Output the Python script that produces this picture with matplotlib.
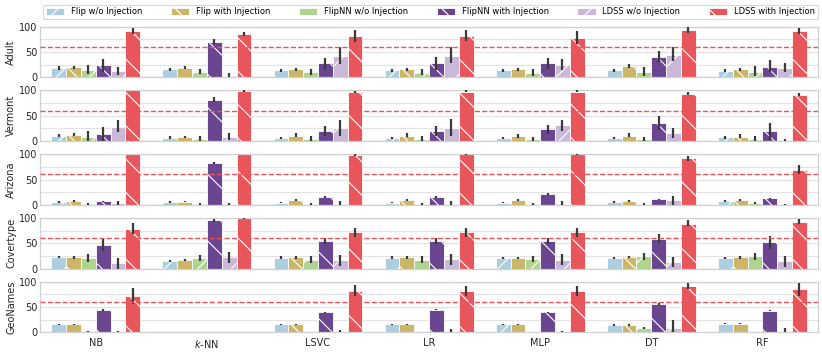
import matplotlib
matplotlib.use("Agg")
import matplotlib.pyplot as plt
import matplotlib.patches as mpatches
import numpy as np

plt.rcParams['font.family'] = ['DejaVu Sans']
plt.rcParams['hatch.color'] = 'white'
plt.rcParams['hatch.linewidth'] = 0.8

CLASSIFIERS = ['NB', '$k$-NN', 'LSVC', 'LR', 'MLP', 'DT', 'RF']
METHODS = ['Flip w/o Injection', 'Flip with Injection', 'FlipNN w/o Injection',
           'FlipNN with Injection', 'LDSS w/o Injection', 'LDSS with Injection']
DATASETS = ['Adult', 'Vermont', 'Arizona', 'Covertype', 'GeoNames']
THRESHOLD = 60

# rows = methods, columns = classifiers
ADULT_MEAN = [[18, 16, 14, 14, 14, 14, 13],
              [20, 19, 16, 16, 16, 22, 16],
              [15, 11, 10, 9, 8, 11, 11],
              [24, 70, 28, 28, 28, 40, 20],
              [12, 3, 42, 42, 24, 45, 18],
              [91, 85, 81, 81, 78, 93, 91]]
ADULT_LO = [[14, 13, 11, 11, 11, 11, 10],
            [17, 16, 13, 13, 13, 18, 13],
            [7, 6, 4, 4, 3, 3, 3],
            [10, 66, 15, 14, 16, 31, 10],
            [5, 0, 26, 28, 14, 33, 10],
            [85, 82, 70, 72, 65, 88, 85]]
ADULT_HI = [[22, 19, 17, 17, 17, 17, 16],
            [23, 22, 19, 19, 19, 27, 19],
            [25, 16, 16, 16, 16, 21, 23],
            [37, 76, 39, 40, 39, 53, 34],
            [20, 8, 60, 59, 36, 60, 28],
            [97, 89, 93, 93, 91, 99, 97]]

VERMONT_MEAN = [[10, 7, 6, 6, 6, 7, 8],
                [12, 9, 11, 11, 10, 11, 9],
                [9, 4, 5, 4, 4, 4, 5],
                [14, 81, 20, 20, 23, 35, 19],
                [28, 8, 26, 26, 31, 15, 0],
                [100, 99, 97, 98, 98, 94, 92]]
VERMONT_LO = [[8, 5, 4, 4, 4, 5, 5],
              [10, 7, 8, 8, 7, 8, 6],
              [0, 0, 0, 0, 0, 0, 0],
              [0, 77, 10, 10, 14, 22, 2],
              [17, 2, 10, 10, 20, 7, 0],
              [100, 98, 96, 97, 97, 92, 89]]
VERMONT_HI = [[13, 10, 8, 8, 8, 9, 11],
              [15, 11, 15, 15, 13, 15, 13],
              [20, 10, 10, 10, 9, 9, 10],
              [28, 87, 29, 29, 32, 50, 35],
              [42, 15, 42, 43, 42, 26, 5],
              [100, 100, 99, 100, 100, 97, 96]]

ARIZONA_MEAN = [[5, 5, 4, 4, 4, 5, 7],
                [7, 6, 9, 9, 9, 7, 9],
                [1, 1, 2, 1, 2, 1, 3],
                [7, 82, 15, 15, 22, 11, 13],
                [3, 0, 1, 1, 1, 9, 0],
                [100, 100, 98, 100, 100, 92, 69]]
ARIZONA_LO = [[4, 4, 3, 3, 3, 4, 5],
              [5, 5, 8, 8, 7, 5, 7],
              [0, 0, 0, 0, 0, 0, 1],
              [6, 80, 14, 13, 20, 10, 12],
              [0, 0, 0, 0, 0, 0, 0],
              [100, 100, 97, 99, 99, 87, 60]]
ARIZONA_HI = [[8, 7, 6, 6, 6, 7, 9],
              [10, 8, 12, 12, 11, 10, 12],
              [3, 3, 4, 3, 4, 3, 5],
              [8, 84, 17, 17, 24, 12, 14],
              [8, 3, 8, 8, 8, 18, 1],
              [100, 100, 100, 100, 100, 97, 79]]

COVERTYPE_MEAN = [[22, 14, 21, 21, 20, 21, 20],
                  [22, 16, 22, 22, 20, 22, 22],
                  [20, 21, 16, 17, 18, 24, 24],
                  [47, 95, 54, 54, 54, 59, 52],
                  [11, 22, 16, 18, 17, 12, 14],
                  [79, 99, 72, 72, 72, 89, 93]]
COVERTYPE_LO = [[20, 13, 19, 19, 19, 19, 19],
                [19, 15, 19, 19, 19, 20, 19],
                [13, 15, 10, 11, 12, 16, 16],
                [35, 93, 48, 48, 48, 51, 38],
                [0, 10, 6, 7, 7, 3, 3],
                [68, 98, 63, 63, 63, 85, 89]]
COVERTYPE_HI = [[25, 17, 24, 24, 23, 23, 23],
                [25, 19, 24, 24, 23, 24, 24],
                [28, 27, 24, 24, 25, 31, 31],
                [60, 98, 61, 60, 60, 69, 65],
                [21, 33, 27, 28, 28, 22, 25],
                [91, 100, 80, 81, 81, 95, 98]]

GEONAMES_MEAN = [[16, 0, 16, 16, 16, 14, 16],
                 [16, 0, 16, 16, 16, 14, 16],
                 [0, 0, 0, 0, 0, 8, 0],
                 [44, 0, 40, 45, 40, 55, 43],
                 [0, 0, 0, 3, 0, 8, 2],
                 [72, 0, 82, 82, 82, 91, 85]]
GEONAMES_LO = [[15, 0, 15, 15, 15, 13, 16],
               [15, 0, 15, 15, 15, 13, 16],
               [0, 0, 0, 0, 0, 7, 0],
               [43, 0, 38, 44, 39, 54, 42],
               [0, 0, 0, 0, 0, 0, 0],
               [55, 0, 72, 72, 72, 85, 72]]
GEONAMES_HI = [[17, 0, 17, 17, 17, 16, 18],
               [17, 0, 17, 17, 17, 16, 18],
               [2, 1, 1, 1, 1, 10, 1],
               [46, 0, 41, 46, 41, 57, 45],
               [2, 1, 5, 7, 3, 24, 8],
               [88, 0, 93, 92, 92, 98, 98]]

COLORS = ['#abcfe0', '#cbb566', '#afd490', '#6a4590', '#c9b8d8', '#e8555a']
HATCHES = ['/', '\\', '/', '\\', '/', '\\']

PANELS = [(ADULT_MEAN, ADULT_LO, ADULT_HI),
          (VERMONT_MEAN, VERMONT_LO, VERMONT_HI),
          (ARIZONA_MEAN, ARIZONA_LO, ARIZONA_HI),
          (COVERTYPE_MEAN, COVERTYPE_LO, COVERTYPE_HI),
          (GEONAMES_MEAN, GEONAMES_LO, GEONAMES_HI)]

fig, axes = plt.subplots(5, 1, figsize=(8.22, 3.52), dpi=100, sharex=True)
fig.subplots_adjust(left=0.049, right=0.995, top=0.924, bottom=0.056, hspace=0.26)

x = np.arange(len(CLASSIFIERS))
n = len(METHODS)
width = 0.8 / n

for ax, name, (mean, lo, hi) in zip(axes, DATASETS, PANELS):
    ax.set_facecolor('white')
    ax.set_axisbelow(True)
    ax.yaxis.grid(True, color='#e3e3e3', lw=0.9)
    for s in ax.spines.values():
        s.set_color('#d0d0d0')
        s.set_linewidth(0.9)
    for i in range(n):
        pos = x - 0.4 + width * (i + 0.5)
        ax.bar(pos, mean[i], width=width, color=COLORS[i], hatch=HATCHES[i],
               edgecolor='white', linewidth=0.6)
        ax.vlines(pos, lo[i], hi[i], color='#3a3a3a', lw=1.6, zorder=3)
    ax.axhline(THRESHOLD, color='#e8555a', ls='--', lw=1.0, zorder=4)
    ax.set_ylim(0, 100)
    ax.set_xlim(-0.5, len(CLASSIFIERS) - 0.5)
    ax.set_yticks([0, 25, 50, 75, 100])
    ax.set_yticklabels(['0', '', '50', '', '100'])
    ax.set_ylabel(name, fontsize=7, color='#262626', labelpad=2)
    ax.tick_params(axis='both', length=0, labelsize=7, colors='#262626', pad=2)

axes[-1].set_xticks(x)
axes[-1].set_xticklabels(CLASSIFIERS)
axes[-1].tick_params(axis='x', pad=4)

handles = [mpatches.Patch(facecolor=COLORS[i], hatch=HATCHES[i], edgecolor='white',
                          linewidth=0.6, label=METHODS[i]) for i in range(n)]
leg = fig.legend(handles=handles, loc='lower left', ncol=6, mode='expand',
                 bbox_to_anchor=(0.052, 0.945, 0.943, 0.05), fontsize=6,
                 frameon=True, borderaxespad=0, handlelength=2.2, handleheight=0.8,
                 borderpad=0.35, handletextpad=0.8)
leg.get_frame().set_edgecolor('#d0d0d0')
leg.get_frame().set_linewidth(0.8)

fig.savefig('out.png', dpi=100, facecolor='white')
